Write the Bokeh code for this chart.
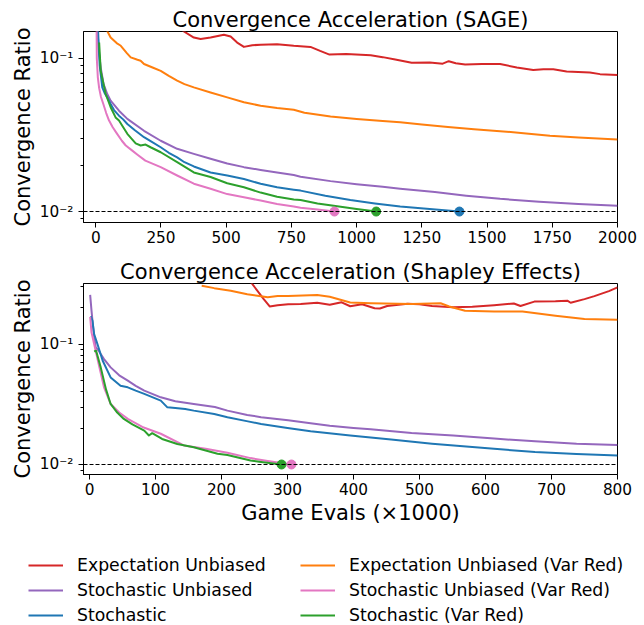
from bokeh.plotting import figure
from bokeh.models import Range1d, FixedTicker, CustomJSTickFormatter, Span, Legend, LegendItem
from bokeh.layouts import column
from bokeh.embed import file_html
from bokeh.resources import INLINE

FONT = "DejaVu Sans"

# ---------------- data: SAGE (top) ----------------
sage_red_x = [320, 338, 376, 402, 440, 491, 517, 542, 568, 600, 632, 695, 759, 823, 860, 896, 960, 1054, 1100, 1148, 1211, 1280, 1330, 1353, 1380, 1416, 1480, 1550, 1614, 1677, 1716, 1754, 1805, 1894, 1933, 2000]
sage_red_y = [0.16, 0.15, 0.137, 0.134, 0.137, 0.143, 0.139, 0.127, 0.119, 0.122, 0.123, 0.124, 0.121, 0.119, 0.112, 0.106, 0.107, 0.105, 0.102, 0.0985, 0.0937, 0.094, 0.0925, 0.096, 0.093, 0.0914, 0.092, 0.0919, 0.0873, 0.084, 0.085, 0.085, 0.0823, 0.081, 0.079, 0.078]

sage_orange_x = [35, 45, 57, 80, 96, 120, 134, 160, 172, 185, 220, 249, 280, 312, 340, 376, 440, 504, 568, 632, 695, 759, 800, 900, 1000, 1100, 1167, 1250, 1350, 1450, 1550, 1650, 1741, 1850, 2000]
sage_orange_y = [0.17, 0.15, 0.137, 0.126, 0.121, 0.108, 0.1016, 0.098, 0.0966, 0.092, 0.087, 0.083, 0.077, 0.0716, 0.068, 0.0647, 0.06, 0.0557, 0.0517, 0.0491, 0.0474, 0.0462, 0.0442, 0.0418, 0.0402, 0.0390, 0.0383, 0.0370, 0.0357, 0.0345, 0.0335, 0.0324, 0.0313, 0.0305, 0.0295]

sage_purple_x = [2, 6, 12, 20, 30, 44, 57, 89, 121, 185, 249, 312, 376, 440, 504, 568, 632, 695, 759, 785, 900, 1000, 1100, 1167, 1300, 1420, 1550, 1700, 1850, 2000]
sage_purple_y = [0.3, 0.16, 0.11, 0.085, 0.068, 0.0586, 0.053, 0.0456, 0.0403, 0.0337, 0.029, 0.0257, 0.0238, 0.0221, 0.0206, 0.0195, 0.0187, 0.018, 0.0173, 0.0169, 0.0158, 0.0151, 0.0145, 0.0141, 0.0134, 0.0127, 0.0121, 0.0116, 0.0112, 0.0109]

sage_blue_x = [3, 9, 15, 25, 35, 44, 57, 70, 89, 105, 121, 150, 185, 215, 249, 280, 312, 340, 376, 440, 504, 568, 632, 695, 759, 785, 880, 976, 1070, 1167, 1280, 1394]
sage_blue_y = [0.3, 0.15, 0.09, 0.0647, 0.059, 0.0557, 0.0504, 0.046, 0.0423, 0.04, 0.0373, 0.034, 0.0306, 0.0285, 0.0263, 0.0242, 0.0226, 0.021, 0.0197, 0.018, 0.0172, 0.0163, 0.0152, 0.0144, 0.0139, 0.0137, 0.0127, 0.0119, 0.0113, 0.0108, 0.0104, 0.01]

sage_pink_x = [2, 4, 8, 13, 20, 29, 40, 51, 65, 80, 100, 115, 140, 160, 190, 249, 312, 376, 440, 504, 568, 632, 695, 759, 785, 850, 915]
sage_pink_y = [0.3, 0.1, 0.075, 0.064, 0.056, 0.0504, 0.044, 0.0393, 0.0355, 0.0325, 0.029, 0.027, 0.025, 0.0235, 0.0215, 0.0195, 0.0172, 0.0152, 0.0141, 0.013, 0.0124, 0.0118, 0.0112, 0.0108, 0.0106, 0.0103, 0.01]

sage_green_x = [13, 19, 38, 57, 76, 89, 121, 153, 172, 191, 210, 249, 312, 376, 440, 504, 568, 632, 695, 759, 785, 850, 912, 1000, 1075]
sage_green_y = [0.127, 0.083, 0.0586, 0.048, 0.0412, 0.0393, 0.0322, 0.0279, 0.027, 0.0274, 0.0263, 0.0244, 0.021, 0.018, 0.0168, 0.0153, 0.0144, 0.0133, 0.0125, 0.012, 0.0119, 0.0113, 0.0109, 0.0104, 0.01]

# ---------------- data: Shapley Effects (bottom) ----------------
shap_red_x = [240, 246, 264, 273, 285, 301, 320, 345, 364, 382, 395, 413, 432, 440, 451, 482, 500, 519, 551, 580, 613, 643, 653, 674, 706, 724, 729, 750, 765, 787, 800]
shap_red_y = [0.35, 0.318, 0.236, 0.205, 0.21, 0.214, 0.215, 0.22, 0.212, 0.222, 0.206, 0.214, 0.198, 0.197, 0.207, 0.216, 0.214, 0.207, 0.202, 0.204, 0.21, 0.217, 0.207, 0.225, 0.226, 0.229, 0.22, 0.236, 0.25, 0.275, 0.295]

shap_orange_x = [170, 189, 214, 239, 270, 285, 301, 345, 364, 395, 426, 488, 532, 545, 569, 613, 656, 706, 750, 800]
shap_orange_y = [0.305, 0.291, 0.277, 0.259, 0.244, 0.25, 0.251, 0.255, 0.247, 0.221, 0.218, 0.215, 0.218, 0.205, 0.189, 0.186, 0.186, 0.172, 0.161, 0.159]

shap_purple_x = [1, 3, 4.5, 7, 9.5, 14, 17, 22, 32, 45, 58, 70, 83, 108, 130, 158, 190, 209, 239, 260, 301, 335, 364, 400, 426, 488, 551, 613, 675, 738, 800]
shap_purple_y = [0.256, 0.19, 0.156, 0.115, 0.0937, 0.088, 0.0826, 0.075, 0.064, 0.055, 0.0496, 0.045, 0.041, 0.0361, 0.0335, 0.0318, 0.03, 0.028, 0.0258, 0.0247, 0.0233, 0.022, 0.021, 0.0201, 0.0196, 0.0183, 0.0174, 0.0164, 0.0156, 0.0149, 0.0145]

shap_blue_x = [2, 4.5, 7, 12, 20, 32, 47, 58, 70, 83, 108, 118, 130, 145, 158, 189, 209, 240, 260, 300, 335, 395, 457, 519, 613, 675, 738, 800]
shap_blue_y = [0.17, 0.156, 0.121, 0.1, 0.0727, 0.0528, 0.045, 0.0437, 0.041, 0.0386, 0.0339, 0.0298, 0.0295, 0.0289, 0.028, 0.0263, 0.0247, 0.0228, 0.0217, 0.0201, 0.0189, 0.0174, 0.0161, 0.0149, 0.0135, 0.0127, 0.0122, 0.0119]

shap_pink_x = [1, 3, 7, 15, 22, 32, 45, 58, 80, 108, 143, 158, 176, 209, 244, 270, 306]
shap_pink_y = [0.168, 0.125, 0.1, 0.064, 0.0437, 0.0318, 0.027, 0.0239, 0.0205, 0.018, 0.0144, 0.014, 0.0135, 0.0125, 0.0113, 0.0107, 0.01]

shap_green_x = [7, 10, 17, 25, 32, 42, 52, 65, 83, 90, 95, 110, 133, 158, 194, 209, 244, 260, 291]
shap_green_y = [0.0869, 0.088, 0.064, 0.042, 0.0318, 0.027, 0.0239, 0.0215, 0.0191, 0.0174, 0.0182, 0.0163, 0.0148, 0.0139, 0.0123, 0.012, 0.0108, 0.0105, 0.01]

threshold = 0.01

series_names = ["Expectation Unbiased", "Stochastic Unbiased", "Stochastic",
                "Expectation Unbiased (Var Red)", "Stochastic Unbiased (Var Red)", "Stochastic (Var Red)"]
series_colors = ["#d62728", "#9467bd", "#1f77b4", "#ff7f0e", "#e377c2", "#2ca02c"]

sage_series = [(sage_red_x, sage_red_y), (sage_purple_x, sage_purple_y), (sage_blue_x, sage_blue_y),
               (sage_orange_x, sage_orange_y), (sage_pink_x, sage_pink_y), (sage_green_x, sage_green_y)]
shap_series = [(shap_red_x, shap_red_y), (shap_purple_x, shap_purple_y), (shap_blue_x, shap_blue_y),
               (shap_orange_x, shap_orange_y), (shap_pink_x, shap_pink_y), (shap_green_x, shap_green_y)]

sage_xticks = [0, 250, 500, 750, 1000, 1250, 1500, 1750, 2000]
shap_xticks = [0, 100, 200, 300, 400, 500, 600, 700, 800]
y_major = [0.01, 0.1]
y_minor = [0.008, 0.009, 0.02, 0.03, 0.04, 0.05, 0.06, 0.07, 0.08, 0.09, 0.2, 0.3]

log_fmt = CustomJSTickFormatter(code="""
const e = Math.round(Math.log10(tick));
const sup = {"-": "\\u207B", "0": "\\u2070", "1": "\\u00B9", "2": "\\u00B2", "3": "\\u00B3",
             "4": "\\u2074", "5": "\\u2075", "6": "\\u2076", "7": "\\u2077", "8": "\\u2078", "9": "\\u2079"};
return "10" + String(e).split("").map(c => sup[c]).join("");
""")

LEFT, RIGHT = 83, 27


def make_panel(title, series, xr, yr, xticks, height, min_bottom, xlabel=None):
    p = figure(width=644, height=height, x_range=Range1d(*xr), y_range=Range1d(*yr),
               y_axis_type="log", output_backend="svg", toolbar_location=None,
               min_border_left=LEFT, min_border_right=RIGHT, min_border_top=31,
               min_border_bottom=min_bottom)
    p.title.text = title
    p.title.text_font = FONT
    p.title.text_font_size = "21px"
    p.title.text_font_style = "normal"
    p.title.align = "center"
    p.title.standoff = 0
    p.title.text_color = "black"
    p.xgrid.visible = False
    p.ygrid.visible = False
    p.outline_line_color = "black"
    p.outline_line_width = 1
    p.background_fill_color = "white"
    p.border_fill_color = "white"

    for (xs, ys), c in zip(series, series_colors):
        p.line(xs, ys, line_color=c, line_width=2, line_join="round")

    p.add_layout(Span(location=threshold, dimension="width", line_color="black",
                      line_dash="4 2", line_width=1.1))

    for (xs, ys), c in zip(series, series_colors):
        if ys[-1] <= threshold:
            p.scatter([xs[-1]], [ys[-1]], marker="circle", size=9, fill_color=c, line_color=c)

    xa = p.xaxis[0]
    xa.ticker = FixedTicker(ticks=xticks, minor_ticks=[])
    ya = p.yaxis[0]
    ya.ticker = FixedTicker(ticks=y_major, minor_ticks=y_minor)
    ya.formatter = log_fmt
    for ax in (xa, ya):
        ax.axis_line_color = "black"
        ax.major_tick_line_color = "black"
        ax.minor_tick_line_color = "black"
        ax.major_tick_in = 0
        ax.major_tick_out = 5
        ax.minor_tick_in = 0
        ax.minor_tick_out = 3
        ax.major_label_text_font = FONT
        ax.major_label_text_font_size = "15.3px"
        ax.major_label_text_color = "black"
        ax.axis_label_text_font = FONT
        ax.axis_label_text_font_size = "21px"
        ax.axis_label_text_font_style = "normal"
        ax.axis_label_text_color = "black"
    xa.minor_tick_out = 0
    xa.major_label_standoff = 3
    xa.axis_label_standoff = 3
    ya.major_label_standoff = 5
    ya.axis_label_standoff = 2
    ya.axis_label = "Convergence Ratio"
    if xlabel:
        xa.axis_label = xlabel
    return p


top = make_panel("Convergence Acceleration (SAGE)", sage_series, (-47, 2000), (0.00848, 0.15),
                 sage_xticks, 252, 30)
bottom = make_panel("Convergence Acceleration (Shapley Effects)", shap_series, (-9.1, 800), (0.00826, 0.318),
                    shap_xticks, 277, 55, xlabel="Game Evals (\u00d71000)")

# ---------------- legend panel ----------------
leg = figure(width=644, height=96, x_range=Range1d(0, 1), y_range=Range1d(0, 1),
             output_backend="svg", toolbar_location=None,
             x_axis_location=None, y_axis_location=None,
             min_border_left=0, min_border_right=0, min_border_top=0, min_border_bottom=0)
try:
    leg.frame_align = False
except Exception:
    pass
leg.xgrid.visible = False
leg.ygrid.visible = False
leg.outline_line_color = None
leg.background_fill_color = "white"
leg.border_fill_color = "white"

dummy = [leg.line([-1, -1], [-1, -1], line_color=c, line_width=2) for c in series_colors]

for col, x_page in ((0, 28), (1, 300)):
    items = [LegendItem(label=series_names[3 * col + i], renderers=[dummy[3 * col + i]]) for i in range(3)]
    lg = Legend(items=items, location=(x_page, 0), orientation="vertical",
                glyph_width=35, glyph_height=20, label_height=20, label_standoff=14,
                spacing=5, padding=0, margin=0,
                label_text_font=FONT, label_text_font_size="17.3px", label_text_color="black",
                border_line_color=None, background_fill_alpha=0)
    leg.add_layout(lg, "center")

layout = column(top, bottom, leg)
open("out.html", "w").write(file_html(layout, INLINE))
